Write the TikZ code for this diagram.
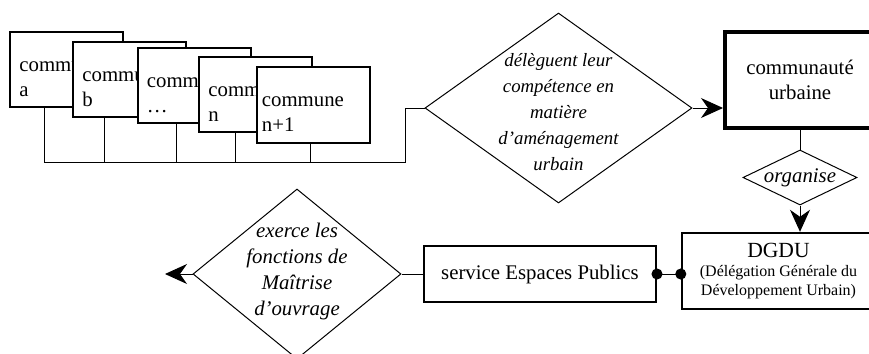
\documentclass[tikz,border=0pt]{standalone}
\usepackage{fontspec}
\setmainfont{Liberation Serif}
\usetikzlibrary{shapes}
\usetikzlibrary{arrows.meta}
\usetikzlibrary{positioning}
\usetikzlibrary{calc}
\begin{document}
\begin{tikzpicture}[x=0.5pt,y=-0.5pt]
\tikzstyle{commune}=[
        rectangle,
        draw,
        line width=1pt,
        fill=white,
        minimum width=56.5pt,
        minimum height=37.5pt,
        inner sep=0pt
]
\tikzstyle{nom}=[anchor=north west,xshift=5pt,yshift=-15pt,inner sep=0pt,
align=left,font=\fontsize{10.4}{12.5}\selectfont]
\tikzstyle{entite}=[rectangle,draw,fill=white,inner sep=0pt,align=center,font=\fontsize{10.4}{12.5}\selectfont]
\tikzstyle{relation}=[diamond,draw,line width=0.5pt,inner sep=0pt]
\tikzstyle{verbe}=[align=center,inner sep=0pt,font=\fontsize{10.4}{13}\selectfont\itshape]
%style des flèches
\tikzstyle{suite}=[-{Stealth[length=11pt,width=10pt,inset=3.5pt]},line width=0.5pt]
\tikzstyle{lien}=[line width=0.5pt]
\tikzstyle{rond}=[{Circle[length=5.5pt]}-{Circle[length=5.5pt]},shorten <=-2.75pt,shorten >=-2.75pt,line width=0.5pt]
\useasboundingbox (0,0) rectangle (869,354);
\clip (0,0) rectangle (869,354);
%placement des nœuds
\node[commune,label={[nom]north west:commune\\a}] (ca) at (66.5,69.5) {};
\node[commune,label={[nom]north west:commune\\b}] (cb) at (129.5,79.5) {};
\node[commune,label={[nom]north west:commune\\…}] (cp) at (194,85.5) {};
\node[commune,label={[nom]north west:commune\\n}] (cn) at (255.5,94.5) {};
\node[commune,minimum height=38pt,label={[nom,xshift=-2pt]north west:commune\\n+1}] (cm) at (313,105) {};
\node[relation,minimum width=133.5pt,minimum height=95pt,
label={[verbe,yshift=-2pt,font=\fontsize{9.4}{13}\selectfont\itshape]center:délèguent leur\\compétence en\\matière\\d'aménagement\\urbain}] (delegue) at (558.5,108) {};
\node[entite,line width=2pt,minimum width=75pt,minimum height=48pt] (cu) at (800,80) {communauté\\urbaine};
\node[relation,minimum width=57pt,minimum height=27.5pt,
label={[verbe]center:organise}] (organise) at (800,177.5) {};
\node[entite,line width=1.2pt,minimum width=96.5pt,minimum height=38pt,font=\fontsize{8}{9.5}\selectfont] (dgdu) at (778.5,271)
{{\fontsize{10.8}{9.5}\selectfont DGDU}\\(Délégation Générale du\\Développement Urbain)};
\node[entite,line width=1pt,minimum width=116pt,minimum height=28pt] (service) at (540,274) {service Espaces Publics};
\node[relation,minimum width=104pt,minimum height=85pt,
label={[verbe,yshift=1.5pt]center:exerce les\\fonctions de\\Maîtrise\\d'ouvrage}] (maitrise) at (297,274) {};
%placement des flèches
\coordinate (coude) at (405,162);
\coordinate (bout) at (165,274);
\draw[lien] ([xshift=17.5pt]ca.south west) |- (coude) |- (delegue.west);
\foreach \c/\d in {cb/16,cp/20,cn/18.5,cm/27.5}
  \draw[lien] ([xshift=\d pt]\c.south west) |- (coude);
\draw[suite] (delegue.east) -- (delegue.east -| cu.west);
\draw[lien] (cu.south) -- (organise.north);
\draw[suite] (organise.south) -- (organise.south |- dgdu.north);
\draw[rond] (service.east) -- (service.east -| dgdu.west);
\draw[lien] (service.west) -- (maitrise.east);
\draw[suite] (maitrise.west) -- (bout);
\end{tikzpicture}
\end{document}
